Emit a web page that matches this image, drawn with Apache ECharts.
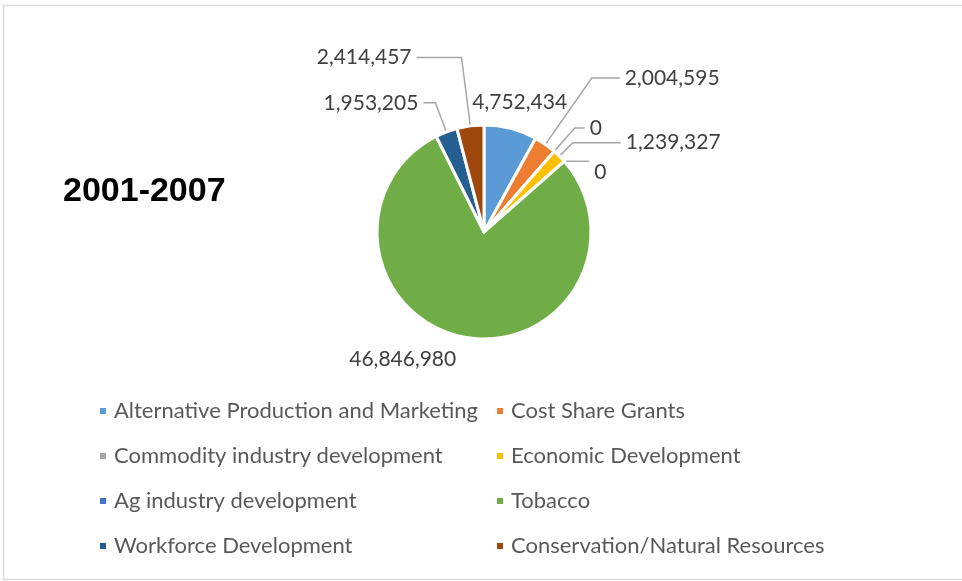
<!DOCTYPE html>
<html>
<head>
<meta charset="utf-8">
<script src="https://cdn.jsdelivr.net/npm/echarts@6/dist/echarts.min.js"></script>
<style>
html,body{margin:0;padding:0;background:#fff;}
#chart{width:962px;height:581px;}
</style>
</head>
<body>
<div id="chart"></div>
<script>
const categories = [
  'Alternative Production and Marketing',
  'Cost Share Grants',
  'Commodity industry development',
  'Economic Development',
  'Ag industry development',
  'Tobacco',
  'Workforce Development',
  'Conservation/Natural Resources'
];
const values = [4752434, 2004595, 0, 1239327, 0, 46846980, 1953205, 2414457];
const colors = ['#5B9BD5', '#ED7D31', '#A5A5A5', '#FFC000', '#4472C4', '#70AD47', '#255E91', '#9E480E'];
const titleText = '2001-2007';
const legendLeft = [categories[0], categories[2], categories[4], categories[6]];
const legendRight = [categories[1], categories[3], categories[5], categories[7]];

// leader-line styling per slice (lengths in px), kept separate from the data
const leaderStyle = [
  { length: 16, length2: 0, show: false, align: 'center', verticalAlign: 'bottom' },
  { length: 81, length2: 28, show: true },
  { length: 31, length2: 10, show: true },
  { length: 19, length2: 48, show: true },
  { length: 0, length2: 25, show: true, verticalAlign: 'top' },
  { length: 12, length2: 0, show: false, verticalAlign: 'top' },
  { length: 31, length2: 12, show: true },
  { length: 69, length2: 45, show: true }
];

const FONT = 'Lato';
const chart = echarts.init(document.getElementById('chart'));
const legendCommon = {
  orient: 'vertical',
  top: 395,
  itemWidth: 8,
  itemHeight: 8,
  icon: 'rect',
  itemGap: 23,
  textStyle: { fontFamily: FONT, fontSize: 22, lineHeight: 22, color: '#595959', padding: [0, 0, 0, 2] }
};
chart.setOption({
  animation: false,
  color: colors,
  title: {
    text: titleText,
    left: 58,
    top: 170,
    textStyle: { fontFamily: 'Liberation Sans', fontSize: 34, fontWeight: 'bold', color: '#000' }
  },
  graphic: [{
    type: 'rect',
    shape: { x: 3.5, y: 5.5, width: 975, height: 574 },
    style: { fill: 'none', stroke: '#D9D9D9', lineWidth: 1.5 },
    silent: true
  }],
  legend: [
    Object.assign({}, legendCommon, { left: 93, data: legendLeft }),
    Object.assign({}, legendCommon, { left: 490, data: legendRight })
  ],
  series: [{
    type: 'pie',
    center: [484, 232],
    radius: 107,
    startAngle: 90,
    clockwise: true,
    avoidLabelOverlap: false,
    stillShowZeroSum: true,
    minShowLabelAngle: 0,
    itemStyle: { borderColor: '#fff', borderWidth: 3 },
    label: {
      show: true,
      position: 'outside',
      fontFamily: FONT,
      fontSize: 21,
      color: '#404040',
      formatter: p => p.value.toLocaleString('en-US')
    },
    labelLine: { show: true, length: 20, length2: 15, lineStyle: { color: '#A6A6A6', width: 1.5 } },
    labelLayout: function (params) {
      const s = leaderStyle[params.dataIndex];
      const out = {};
      if (s.align) out.align = s.align;
      if (s.verticalAlign) out.verticalAlign = s.verticalAlign;
      return out;
    },
    data: categories.map((c, i) => ({
      name: c,
      value: values[i],
      labelLine: { show: leaderStyle[i].show, length: leaderStyle[i].length, length2: leaderStyle[i].length2 }
    }))
  }]
});
</script>
</body>
</html>
